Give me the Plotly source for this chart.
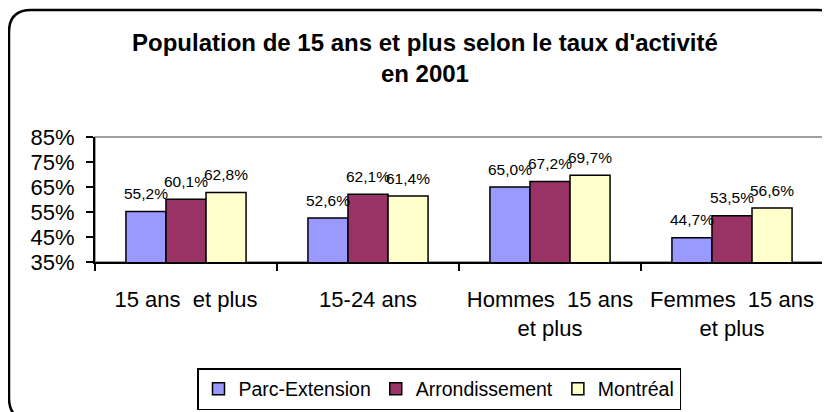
import plotly.graph_objects as go

categories = ["15 ans  et plus", "15-24 ans", "Hommes  15 ans<br>et plus", "Femmes  15 ans<br>et plus"]
series_names = ["Parc-Extension", "Arrondissement", "Montréal"]
parc_extension = [55.2, 52.6, 65.0, 44.7]
arrondissement = [60.1, 62.1, 67.2, 53.5]
montreal = [62.8, 61.4, 69.7, 56.6]
y_ticks = [35, 45, 55, 65, 75, 85]
title_text = "Population de 15 ans et plus selon le taux d'activité<br>en 2001"

colors = ["#9999FF", "#993366", "#FFFFCC"]
all_series = [parc_extension, arrondissement, montreal]

# page has an 8px body margin, so the figure is sized to fit the window
W, H = 822, 404
L, R, T, B = 87, 7, 129, 150
pw, ph = W - L - R, H - T - B
FONT = "Arial, Liberation Sans, sans-serif"

fig = go.Figure()
for name, vals, col in zip(series_names, all_series, colors):
    fig.add_trace(go.Bar(
        name=name, x=categories, y=vals,
        marker=dict(color=col, line=dict(color="black", width=1.5)),
        hoverinfo="skip",
    ))

# data labels
bar_px = pw / len(categories) * (1 - 0.34) / 3
for i, vals in enumerate(all_series):
    for c, v in zip(categories, vals):
        fig.add_annotation(
            x=c, y=v, xref="x", yref="y",
            text=f"{v:.1f}".replace(".", ",") + "%",
            showarrow=False, xshift=(i - 1) * bar_px, yshift=18,
            yanchor="middle", xanchor="center",
            font=dict(family=FONT, size=15.5, color="black"),
        )

def px_x(p):
    return (p - L) / pw

def px_y(p):
    return (H - B - p) / ph

# title
fig.add_annotation(
    x=px_x(417), y=px_y(19), xref="paper", yref="paper",
    xanchor="center", yanchor="top", showarrow=False,
    text="<b>" + title_text + "</b>", align="center",
    font=dict(family=FONT, size=24, color="black"),
)

# outer rounded border
x0, y0, x1, y1, r = 1, 2, 832, 412, 22
path = (
    f"M {px_x(x0)},{px_y(y0 + r)} "
    f"Q {px_x(x0)},{px_y(y0)} {px_x(x0 + r)},{px_y(y0)} "
    f"L {px_x(x1 - r)},{px_y(y0)} "
    f"Q {px_x(x1)},{px_y(y0)} {px_x(x1)},{px_y(y0 + r)} "
    f"L {px_x(x1)},{px_y(y1 - r)} "
    f"Q {px_x(x1)},{px_y(y1)} {px_x(x1 - r)},{px_y(y1)} "
    f"L {px_x(x0 + r)},{px_y(y1)} "
    f"Q {px_x(x0)},{px_y(y1)} {px_x(x0)},{px_y(y1 - r)} Z"
)
fig.add_shape(type="path", path=path, xref="paper", yref="paper",
              line=dict(color="black", width=2.5), layer="below")
# gray plot-area frame
fig.add_shape(type="rect", xref="paper", yref="paper", x0=0, y0=0, x1=1, y1=1,
              line=dict(color="#808080", width=1.5), layer="below")

fig.update_layout(
    width=W, height=H,
    margin=dict(l=L, r=R, t=T, b=B, autoexpand=False),
    paper_bgcolor="white", plot_bgcolor="white",
    barmode="group", bargap=0.34, bargroupgap=0,
    font=dict(family=FONT, color="black"),
    showlegend=True,
    legend=dict(orientation="h", x=px_x(431), xanchor="center", y=px_y(360), yanchor="top",
                bgcolor="white", bordercolor="black", borderwidth=1.5,
                font=dict(family=FONT, size=19.5, color="black"),
                itemwidth=30, traceorder="normal"),
)
fig.update_xaxes(
    showline=True, linecolor="black", linewidth=2,
    ticks="outside", tickson="boundaries", ticklen=7, tickwidth=2, tickcolor="black",
    tickfont=dict(family=FONT, size=22, color="black"),
    ticklabelstandoff=17, showgrid=False, fixedrange=True, automargin=False,
)
fig.update_yaxes(
    range=[35, 85], tickvals=y_ticks, ticktext=[f"{v}%" for v in y_ticks],
    showline=True, linecolor="black", linewidth=2,
    ticks="outside", ticklen=7, tickwidth=2, tickcolor="black",
    tickfont=dict(family=FONT, size=22, color="black"),
    ticklabelstandoff=7, showgrid=False, zeroline=False, fixedrange=True, automargin=False,
)

fig.write_html("out.html")
